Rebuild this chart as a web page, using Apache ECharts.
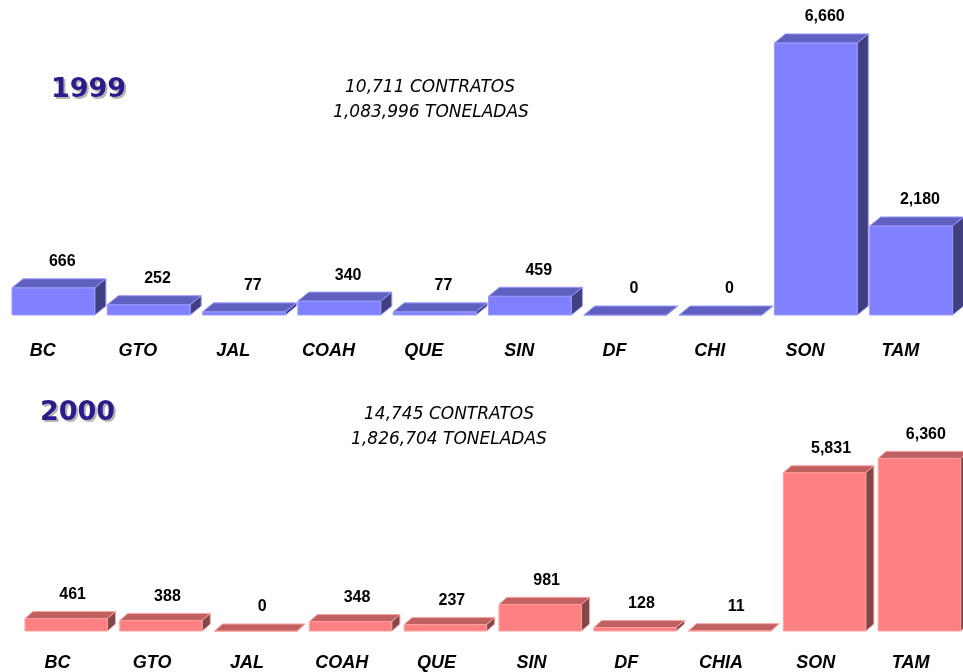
<!DOCTYPE html>
<html>
<head>
<meta charset="utf-8">
<script src="https://cdn.jsdelivr.net/npm/echarts@6/dist/echarts.min.js"></script>
<style>
  html, body { margin: 0; padding: 0; background: #fff; }
  #container { width: 963px; height: 672px; }
</style>
</head>
<body>
<div id="container"></div>
<script>
var cats1999 = ['BC', 'GTO', 'JAL', 'COAH', 'QUE', 'SIN', 'DF', 'CHI', 'SON', 'TAM'];
var vals1999 = [666, 252, 77, 340, 77, 459, 0, 0, 6660, 2180];
var cats2000 = ['BC', 'GTO', 'JAL', 'COAH', 'QUE', 'SIN', 'DF', 'CHIA', 'SON', 'TAM'];
var vals2000 = [461, 388, 0, 348, 237, 981, 128, 11, 5831, 6360];
var notes1999 = ['10,711 CONTRATOS', '1,083,996 TONELADAS'];
var notes2000 = ['14,745 CONTRATOS', '1,826,704 TONELADAS'];

var blue = { front: '#8080FF', top: '#6060C0', side: '#404080', edge: '#9C9CFF' };
var red = { front: '#FF8080', top: '#C06060', side: '#804848', edge: '#FFA0A0' };

// draws a pseudo 3d box: front face, top face, right side
function box3d(dx, dy, col) {
  return function (params, api) {
    var idx = api.value(0);
    var val = api.value(1);
    var base = api.coord([idx, 0]);
    var top = api.coord([idx, val]);
    var band = api.size([1, 0])[0];
    var w = band * 0.87;
    var x0 = base[0] - band / 2 + 2;
    var ty = top[1], by = base[1];
    return {
      type: 'group',
      children: [
        { type: 'rect', shape: { x: x0, y: ty, width: w, height: by - ty },
          style: { fill: col.front, stroke: col.edge, lineWidth: 1 } },
        { type: 'polygon', shape: { points: [[x0, ty], [x0 + w, ty], [x0 + w + dx, ty - dy], [x0 + dx, ty - dy]] },
          style: { fill: col.top, stroke: col.edge, lineWidth: 1 } },
        { type: 'polygon', shape: { points: [[x0 + w, ty], [x0 + w + dx, ty - dy], [x0 + w + dx, by - dy], [x0 + w, by]] },
          style: { fill: col.side, stroke: col.edge, lineWidth: 1 } },
        { type: 'text', x: x0 + w / 2 + dx * 0.8, y: ty - dy - 9,
          style: { text: val.toLocaleString('en-US'), fill: '#000', align: 'center', verticalAlign: 'bottom',
            font: 'bold 16px "Liberation Sans", Arial, sans-serif' } }
      ]
    };
  };
}

function toData(vals) {
  var out = [];
  for (var i in vals) {
    out.push([Number(i), vals[i]]);
  }
  return out;
}

var catLabel = {
  color: '#000', fontSize: 18, fontWeight: 'bold', fontStyle: 'italic',
  fontFamily: '"Liberation Sans", Arial, sans-serif'
};
var noteStyle = { font: 'italic 17px "DejaVu Sans", sans-serif', fill: '#000', align: 'center', verticalAlign: 'middle' };
var yearFont = 'bold 27px "DejaVu Sans", Verdana, sans-serif';

// year title drawn twice: grey copy as the drop shadow, then the blue text
function yearText(txt, x, y) {
  return [
    { type: 'text', x: x + 2, y: y + 2, style: { text: txt, font: yearFont, fill: '#B4B4B4' } },
    { type: 'text', x: x, y: y, style: { text: txt, font: yearFont, fill: '#2E1A8A' } }
  ];
}

var chart = echarts.init(document.getElementById('container'));
var option = {
  backgroundColor: '#fff',
  animation: false,
  graphic: yearText('1999', 51, 76).concat(yearText('2000', 40, 399)).concat([
    { type: 'text', x: 430, y: 88, style: Object.assign({ text: notes1999[0] }, noteStyle) },
    { type: 'text', x: 431, y: 113, style: Object.assign({ text: notes1999[1] }, noteStyle) },
    { type: 'text', x: 449, y: 415, style: Object.assign({ text: notes2000[0] }, noteStyle) },
    { type: 'text', x: 449, y: 440, style: Object.assign({ text: notes2000[1] }, noteStyle) }
  ]),
  grid: [
    { left: 10, right: 0, top: 29, bottom: 357, outerBoundsMode: 'none' },
    { left: 23, width: 948, top: 441, bottom: 41, outerBoundsMode: 'none' }
  ],
  xAxis: [
    { type: 'category', gridIndex: 0, data: cats1999, axisLine: { show: false }, axisTick: { show: false },
      axisLabel: Object.assign({ margin: 27, padding: [0, 30, 0, 0], interval: 0 }, catLabel) },
    { type: 'category', gridIndex: 1, data: cats2000, axisLine: { show: false }, axisTick: { show: false },
      axisLabel: Object.assign({ margin: 23, padding: [0, 26, 0, 0], interval: 0 }, catLabel) }
  ],
  yAxis: [
    { type: 'value', gridIndex: 0, min: 0, max: 7000, show: false },
    { type: 'value', gridIndex: 1, min: 0, max: 7000, show: false }
  ],
  series: [
    { type: 'custom', xAxisIndex: 0, yAxisIndex: 0, renderItem: box3d(11, 9, blue), data: toData(vals1999) },
    { type: 'custom', xAxisIndex: 1, yAxisIndex: 1, renderItem: box3d(8, 7, red), data: toData(vals2000) }
  ]
};
chart.setOption(option);
</script>
</body>
</html>
